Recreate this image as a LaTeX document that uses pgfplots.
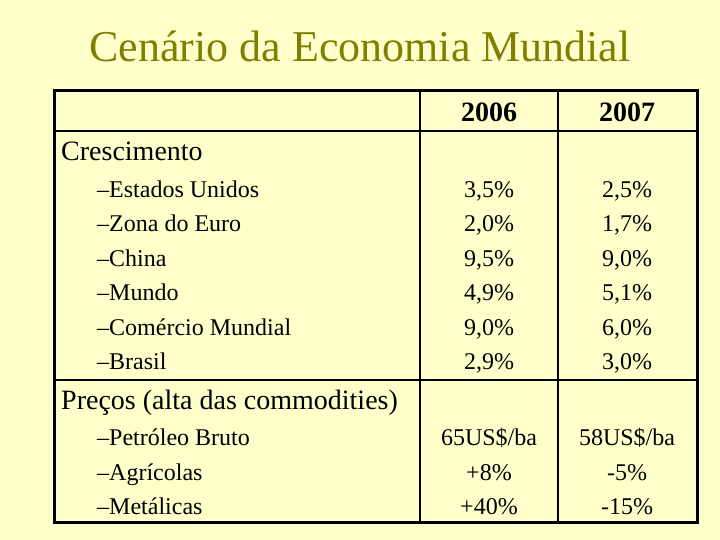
\documentclass[border=0pt]{standalone}
\usepackage{pgfplots}
\pgfplotsset{compat=1.18}
\usepackage{fontspec}
\setmainfont{Liberation Serif}
\definecolor{slidebg}{HTML}{FFFFCC}
\definecolor{titleolive}{HTML}{808000}

\begin{document}
\begin{tikzpicture}[
  lab/.style={anchor=base west,inner sep=0pt,font=\fontsize{24}{28}\selectfont},
  val/.style={anchor=base,inner sep=0pt,font=\fontsize{24}{28}\selectfont}
]
\begin{axis}[
  width=720pt,height=540pt,scale only axis,
  xmin=0,xmax=720,ymin=0,ymax=540,y dir=reverse,
  axis lines=none,clip=false
]
% background
\fill[slidebg] (axis cs:0,0) rectangle (axis cs:720,540);
% title
\node[anchor=base,inner sep=0pt,text=titleolive,font=\fontsize{44}{50}\selectfont] at (axis cs:360,62) {Cenário da Economia Mundial};
% table rules
\draw[line width=2pt] (axis cs:54,131) -- (axis cs:697,131);
\draw[line width=2pt] (axis cs:54,380) -- (axis cs:697,380);
\draw[line width=2pt] (axis cs:420,91) -- (axis cs:420,522);
\draw[line width=2pt] (axis cs:558,91) -- (axis cs:558,522);
\draw[line width=3pt] (axis cs:54,91) rectangle (axis cs:697,522);
% header
\node[anchor=base,inner sep=0pt,font=\fontsize{28}{32}\selectfont\bfseries] at (axis cs:489,122) {2006};
\node[anchor=base,inner sep=0pt,font=\fontsize{28}{32}\selectfont\bfseries] at (axis cs:627,122) {2007};
% group headers
\node[anchor=base west,inner sep=0pt,font=\fontsize{28}{32}\selectfont] at (axis cs:61,161) {Crescimento};
\node[anchor=base west,inner sep=0pt,font=\fontsize{28}{32}\selectfont] at (axis cs:61,409) {Preços (alta das commodities)};
% Crescimento
\node[lab] at (axis cs:97,197) {--Estados Unidos};
\node[val] at (axis cs:489,197) {3,5\%};
\node[val] at (axis cs:627,197) {2,5\%};
\node[lab] at (axis cs:97,231) {--Zona do Euro};
\node[val] at (axis cs:489,231) {2,0\%};
\node[val] at (axis cs:627,231) {1,7\%};
\node[lab] at (axis cs:97,266) {--China};
\node[val] at (axis cs:489,266) {9,5\%};
\node[val] at (axis cs:627,266) {9,0\%};
\node[lab] at (axis cs:97,300) {--Mundo};
\node[val] at (axis cs:489,300) {4,9\%};
\node[val] at (axis cs:627,300) {5,1\%};
\node[lab] at (axis cs:97,335) {--Comércio Mundial};
\node[val] at (axis cs:489,335) {9,0\%};
\node[val] at (axis cs:627,335) {6,0\%};
\node[lab] at (axis cs:97,369) {--Brasil};
\node[val] at (axis cs:489,369) {2,9\%};
\node[val] at (axis cs:627,369) {3,0\%};
% Precos
\node[lab] at (axis cs:97,445) {--Petróleo Bruto};
\node[val] at (axis cs:489,445) {65US\$/ba};
\node[val] at (axis cs:627,445) {58US\$/ba};
\node[lab] at (axis cs:97,480) {--Agrícolas};
\node[val] at (axis cs:489,480) {+8\%};
\node[val] at (axis cs:627,480) {-5\%};
\node[lab] at (axis cs:97,514) {--Metálicas};
\node[val] at (axis cs:489,514) {+40\%};
\node[val] at (axis cs:627,514) {-15\%};
\end{axis}
\end{tikzpicture}
\end{document}
